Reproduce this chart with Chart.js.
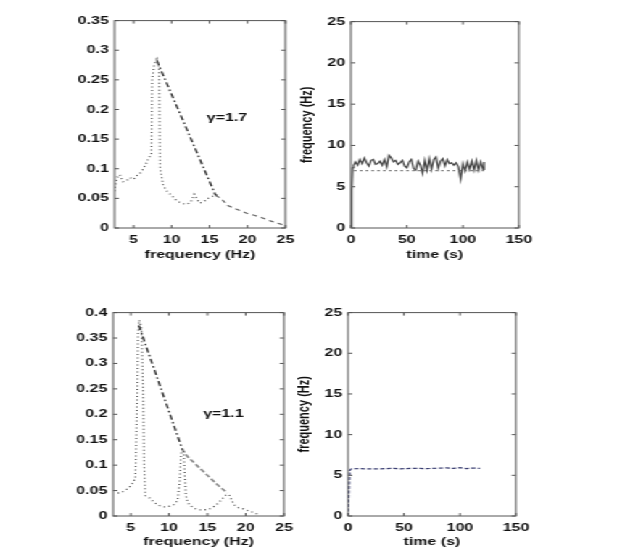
<!DOCTYPE html>
<html lang="en">
<head>
<meta charset="UTF-8">
<title>spectra and frequency tracks</title>
<script src="https://cdn.jsdelivr.net/npm/chart.js@4.4.1/dist/chart.umd.min.js"></script>
<style>
  html, body { margin: 0; padding: 0; background: #fff; }
  body { width: 622px; height: 558px; overflow: hidden; position: relative; }
  /* the figure is drawn narrow and stretched sideways, like the original scan */
  #sheet { position: absolute; left: 0; top: 0; width: 429px; height: 558px; transform: scaleX(1.45); transform-origin: 0 0; }
  .box { position: absolute; }
</style>
</head>
<body>
<div id="sheet">
  <div class="box" style="left:47px; top:10px; width:161px; height:255px;"><canvas id="tl"></canvas></div>
  <div class="box" style="left:202px; top:11px; width:170px; height:254px;"><canvas id="tr"></canvas></div>
  <div class="box" style="left:46px; top:302px; width:161px; height:250px;"><canvas id="bl"></canvas></div>
  <div class="box" style="left:200px; top:302px; width:170px; height:250px;"><canvas id="br"></canvas></div>
</div>

<script>
// ---- data ----
// top left, gamma = 1.7
var tlFreq = [2.5, 2.8, 3.2, 3.6, 4.1, 4.5, 5.0, 5.4, 6.0, 6.5, 7.0, 7.35, 7.45, 7.7, 8.05, 8.35, 8.45, 8.5, 8.9, 9.4, 10.0, 10.5, 11.0, 11.5, 12.0, 12.5, 13.0, 13.3, 13.7, 14.2, 14.8, 15.3, 15.8, 16.3];
var tlSpec = [0.062, 0.085, 0.09, 0.078, 0.08, 0.085, 0.082, 0.088, 0.094, 0.105, 0.118, 0.125, 0.25, 0.275, 0.285, 0.27, 0.15, 0.1, 0.072, 0.062, 0.055, 0.048, 0.044, 0.041, 0.04, 0.043, 0.057, 0.05, 0.042, 0.044, 0.05, 0.053, 0.056, 0.055];
var tlEnvFreq = [8.05, 15.8];
var tlEnv = [0.283, 0.055];
var tlTailFreq = [15.8, 16.5, 17.4, 18.5, 19.9, 21.0, 22.0, 23.0, 24.0, 25.0];
var tlTail = [0.055, 0.05, 0.038, 0.032, 0.025, 0.021, 0.017, 0.012, 0.008, 0.004];

// bottom left, gamma = 1.1
var blFreq = [3.3, 3.8, 4.4, 4.9, 5.3, 5.6, 5.8, 5.95, 6.1, 6.4, 6.6, 6.75, 6.9, 7.5, 8.1, 8.8, 9.4, 10.0, 10.6, 11.1, 11.4, 11.55, 11.7, 11.9, 12.05, 12.2, 12.4, 12.7, 13.3, 13.9, 14.5, 15.2, 15.8, 16.4, 16.9, 17.3, 17.6, 17.9, 18.2, 18.5, 19.1, 19.7, 20.4, 21.0, 21.8];
var blSpec = [0.045, 0.046, 0.052, 0.058, 0.066, 0.075, 0.2, 0.36, 0.385, 0.37, 0.25, 0.1, 0.04, 0.035, 0.026, 0.02, 0.018, 0.019, 0.022, 0.03, 0.07, 0.12, 0.132, 0.125, 0.08, 0.04, 0.028, 0.021, 0.015, 0.012, 0.012, 0.013, 0.018, 0.025, 0.033, 0.04, 0.043, 0.04, 0.03, 0.022, 0.016, 0.014, 0.01, 0.007, 0.002];
var blEnvFreq = [6.05, 11.7];
var blEnv = [0.375, 0.132];
var blTailFreq = [11.7, 12.4, 16.2, 17.6];
var blTail = [0.132, 0.117, 0.063, 0.045];

// top right, tracked frequency
var trTime = [0, 0.5, 1, 1.5, 2.5, 4, 6, 8, 10, 12, 14, 16, 18, 20, 22, 24, 26, 28, 30, 32, 34, 36, 38, 40, 42, 44, 46, 48, 50, 52, 54, 56, 58, 60, 62, 64, 66, 68, 70, 72, 74, 76, 78, 80, 82, 84, 86, 88, 90, 92, 94, 96, 98, 100, 102, 104, 106, 108, 110, 112, 114, 116, 118, 119];
var trHz = [0, 4.2, 4.5, 7.3, 7.6, 8.0, 7.6, 8.3, 7.8, 8.5, 7.9, 7.5, 8.2, 8.3, 7.7, 7.8, 8.1, 7.6, 8.3, 7.4, 8.8, 8.5, 8.0, 8.2, 7.7, 7.9, 8.2, 7.5, 7.3, 8.0, 8.3, 7.2, 7.0, 8.1, 7.6, 6.6, 8.2, 7.0, 8.4, 7.1, 8.3, 8.6, 7.2, 8.1, 8.4, 7.5, 8.3, 7.8, 7.9, 7.6, 7.9, 7.4, 5.9, 7.8, 6.9, 8.0, 7.1, 8.1, 7.0, 8.2, 7.0, 8.0, 7.1, 8.0];
var trRefTime = [3, 119];
var trRef = [6.95, 6.95];

// bottom right, tracked frequency
var brTime = [0, 0.8, 1.5, 3, 4, 10, 16, 22, 28, 34, 40, 46, 52, 58, 64, 70, 76, 82, 88, 94, 100, 106, 112, 118];
var brHz = [0, 3.0, 5.6, 5.8, 5.8, 5.82, 5.8, 5.78, 5.8, 5.82, 5.85, 5.8, 5.83, 5.86, 5.85, 5.82, 5.85, 5.88, 5.92, 5.85, 5.95, 5.82, 5.9, 5.85];

// tick values
var freqTicks = [5, 10, 15, 20, 25];
var ampTicksTop = [0, 0.05, 0.1, 0.15, 0.2, 0.25, 0.3, 0.35];
var ampTicksBottom = [0, 0.05, 0.1, 0.15, 0.2, 0.25, 0.3, 0.35, 0.4];
var timeTicks = [0, 50, 100, 150];
var hzTicks = [0, 5, 10, 15, 20, 25];

Chart.defaults.font.family = '"Liberation Sans", Arial, sans-serif';
Chart.defaults.font.size = 11;
Chart.defaults.font.weight = 'bold';
Chart.defaults.color = '#111';

function pts(xs, ys) {
    return xs.map(function(x, i) { return {x: x, y: ys[i]}; });
}

function line(xs, ys, color, dash, width) {
    return {
        data: pts(xs, ys),
        showLine: true,
        borderColor: color,
        borderDash: dash,
        borderWidth: width,
        pointRadius: 0,
        tension: 0,
        fill: false
    };
}

function fmt(v) {
    return String(Math.round(v * 100) / 100);
}

// box round the plot, ticks pointing in on all four sides, and the gamma note
var frame = {
    id: 'frame',
    afterDatasetsDraw: function(chart, args, opts) {
        var a = chart.chartArea, ctx = chart.ctx;
        var xs = chart.scales.x, ys = chart.scales.y;
        ctx.save();
        ctx.strokeStyle = '#555';
        ctx.lineWidth = 1;
        ctx.strokeRect(a.left, a.top, a.right - a.left, a.bottom - a.top);
        ctx.beginPath();
        xs.ticks.forEach(function(t) {
            var p = xs.getPixelForValue(t.value);
            ctx.moveTo(p, a.bottom); ctx.lineTo(p, a.bottom - 3);
            ctx.moveTo(p, a.top); ctx.lineTo(p, a.top + 3);
        });
        ys.ticks.forEach(function(t) {
            var p = ys.getPixelForValue(t.value);
            ctx.moveTo(a.left, p); ctx.lineTo(a.left + 3, p);
            ctx.moveTo(a.right, p); ctx.lineTo(a.right - 3, p);
        });
        ctx.stroke();
        if (opts && opts.text) {
            ctx.fillStyle = '#111';
            ctx.font = 'bold 11px "Liberation Sans", Arial, sans-serif';
            ctx.textAlign = 'center';
            ctx.textBaseline = 'middle';
            ctx.fillText(opts.text, xs.getPixelForValue(opts.x), ys.getPixelForValue(opts.y));
        }
        ctx.restore();
    }
};

function makeChart(id, datasets, xr, yr, note) {
    return new Chart(document.getElementById(id), {
        type: 'scatter',
        data: { datasets: datasets },
        plugins: [frame],
        options: {
            responsive: true,
            maintainAspectRatio: false,
            animation: false,
            layout: { autoPadding: false, padding: { top: 8, right: 6, left: 0, bottom: 0 } },
            plugins: { legend: { display: false }, tooltip: { enabled: false }, frame: note || {} },
            scales: {
                x: {
                    type: 'linear', min: xr.min, max: xr.max,
                    afterBuildTicks: function(s) { s.ticks = xr.ticks.map(function(v) { return {value: v}; }); },
                    afterFit: function(s) { s.height = xr.height; },
                    grid: { display: false, drawTicks: false },
                    border: { display: false },
                    ticks: { padding: 5, maxRotation: 0, autoSkip: false, callback: fmt },
                    title: { display: true, text: xr.title, padding: { top: 2, bottom: 3 } }
                },
                y: {
                    type: 'linear', min: yr.min, max: yr.max,
                    afterBuildTicks: function(s) { s.ticks = yr.ticks.map(function(v) { return {value: v}; }); },
                    afterFit: function(s) { s.width = yr.width; },
                    grid: { display: false, drawTicks: false },
                    border: { display: false },
                    ticks: { padding: 4, autoSkip: false, callback: fmt },
                    title: { display: !!yr.title, text: yr.title || '', padding: { top: 3, bottom: 2 } }
                }
            }
        }
    });
}

var dotted = [1, 2.5];
var dashDot = [5, 2.5, 1.5, 2.5];

makeChart('tl', [
    line(tlFreq, tlSpec, '#4a4a4a', dotted, 1.2),
    line(tlEnvFreq, tlEnv, '#2a2a2a', dashDot, 1.3),
    line(tlTailFreq, tlTail, '#666', [3.5, 3], 1.2)
], { min: 2.5, max: 25, ticks: freqTicks, height: 37, title: 'frequency (Hz)' },
   { min: 0, max: 0.35, ticks: ampTicksTop, width: 32 },
   { text: '\u03b3=1.7', x: 17.3, y: 0.185 });

makeChart('tr', [
    line(trRefTime, trRef, '#666', [1.5, 2.5], 1.1),
    line(trTime, trHz, '#444', [], 1.2)
], { min: 0, max: 150, ticks: timeTicks, height: 37, title: 'time (s)' },
   { min: 0, max: 25, ticks: hzTicks, width: 40, title: 'frequency (Hz)' });

makeChart('bl', [
    line(blFreq, blSpec, '#4a4a4a', dotted, 1.2),
    line(blEnvFreq, blEnv, '#2a2a2a', dashDot, 1.3),
    line(blTailFreq, blTail, '#8a8a8a', [4, 2], 1.6)
], { min: 2.7, max: 25, ticks: freqTicks, height: 36, title: 'frequency (Hz)' },
   { min: 0, max: 0.4, ticks: ampTicksBottom, width: 32 },
   { text: '\u03b3=1.1', x: 17.1, y: 0.2 });

makeChart('br', [
    line(brTime, brHz, '#3b3f72', [3, 1.5], 1.2)
], { min: 0, max: 150, ticks: timeTicks, height: 36, title: 'time (s)' },
   { min: 0, max: 25, ticks: hzTicks, width: 40, title: 'frequency (Hz)' });
</script>
</body>
</html>
